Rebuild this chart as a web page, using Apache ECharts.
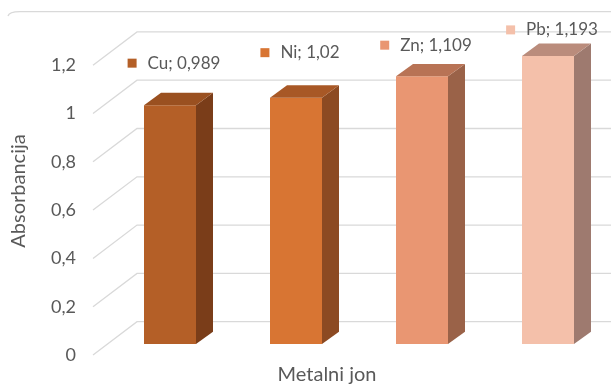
<!DOCTYPE html>
<html>
<head>
<meta charset="utf-8">
<script src="https://cdn.jsdelivr.net/npm/echarts@6/dist/echarts.min.js"></script>
<style>html,body{margin:0;padding:0;background:#fff}#c{width:611px;height:389px}</style>
</head>
<body>
<div id="c"></div>
<script>
// ---- data ----
const categories = ['Cu', 'Ni', 'Zn', 'Pb'];
const values = [0.989, 1.02, 1.109, 1.193];
const valueLabels = ['0,989', '1,02', '1,109', '1,193'];
const yTicks = [0, 0.2, 0.4, 0.6, 0.8, 1, 1.2];
const xTitle = 'Metalni jon';
const yTitle = 'Absorbancija';

// ---- style ----
const frontCol = ['#B45F27', '#D87533', '#E99672', '#F4C0AA'];
const sideCol  = ['#7A3D19', '#8C4A22', '#9A6248', '#9E7A6F'];
const topCol   = ['#9A5020', '#A85826', '#B87355', '#BA8C7C'];
const labelLift = [42, 45, 31, 26];
const FONT = 'Lato, "Liberation Sans", sans-serif';
const TXT = '#595959';
const GRID = '#d9d9d9';
const LBL = 17, TICK = 18, TITLE = 20;

const chart = echarts.init(document.getElementById('c'), null, {renderer: 'canvas'});

const ctx = document.createElement('canvas').getContext('2d');
function tw(s, size) { ctx.font = size + 'px ' + FONT; return ctx.measureText(s).width; }

const fmt = v => String(+(+v).toFixed(1)).replace('.', ',');

const option = {
  animation: false,
  grid: [
    {left: 107, top: 54.2, width: 511, height: 289.8},
    {left: 93, top: 65.2, width: 44, height: 289.8}
  ],
  xAxis: [
    {type: 'category', gridIndex: 0, data: categories, show: false},
    {type: 'value', gridIndex: 1, min: 0, max: 1, show: false}
  ],
  yAxis: [
    {type: 'value', gridIndex: 0, min: 0, max: 1.2, interval: 0.2, show: false},
    {type: 'value', gridIndex: 1, min: 0, max: 1.2, interval: 0.2,
     axisLine: {show: false}, axisTick: {show: false}, splitLine: {show: false},
     axisLabel: {formatter: fmt, color: TXT, fontSize: TICK, fontFamily: FONT, margin: 17}}
  ],
  series: [
    {
      type: 'custom', xAxisIndex: 1, yAxisIndex: 1, z: 1,
      data: yTicks.map(v => [0, v]),
      renderItem: function (params, api) {
        const p = api.coord([0, api.value(1)]);
        const x0 = params.coordSys.x;
        return {
          type: 'polyline', silent: true,
          shape: {points: [[x0, p[1]], [x0 + 44, p[1] - 33.3], [611, p[1] - 33.3]]},
          style: {stroke: GRID, lineWidth: 1.3, fill: null}
        };
      }
    },
    {
      type: 'custom', xAxisIndex: 0, yAxisIndex: 0, z: 3,
      data: values.map((v, i) => [i, v]),
      renderItem: function (params, api) {
        const i = api.value(0), v = api.value(1);
        const c = api.coord([i, v]);
        const b = api.coord([i, 0]);
        const hw = 26, dx = 17, dy = -12.3;
        const xl = c[0] - hw, xr = c[0] + hw, yt = c[1], yb = b[1];
        const label = categories[i] + '; ' + valueLabels[i];
        const textW = tw(label, LBL);
        const groupW = 20 + textW;
        const gl = c[0] + 4 - groupW / 2;
        const ly = yt - labelLift[i];
        return {
          type: 'group',
          children: [
            {type: 'rect', shape: {x: xl, y: yt, width: hw * 2, height: yb - yt}, style: {fill: frontCol[i]}},
            {type: 'polygon', shape: {points: [[xr, yt], [xr + dx, yt + dy], [xr + dx, yb + dy], [xr, yb]]}, style: {fill: sideCol[i]}},
            {type: 'polygon', shape: {points: [[xl, yt], [xl + dx, yt + dy], [xr + dx, yt + dy], [xr, yt]]}, style: {fill: topCol[i]}},
            {type: 'rect', shape: {x: gl, y: ly - 4.5, width: 9, height: 9}, style: {fill: frontCol[i]}},
            {type: 'text', x: gl + 20, y: ly, style: {text: label, fill: TXT, font: LBL + 'px ' + FONT, verticalAlign: 'middle', align: 'left'}}
          ]
        };
      }
    }
  ],
  graphic: [
    {type: 'bezierCurve', shape: {x1: 8, y1: 16, cpx1: 9, cpy1: 11.7, x2: 20, y2: 11.7}, style: {stroke: GRID, lineWidth: 1.3, fill: null}, silent: true},
    {type: 'line', shape: {x1: 20, y1: 11.7, x2: 611, y2: 11.7}, style: {stroke: GRID, lineWidth: 1.3}, silent: true},
    {type: 'text', x: 327, y: 375, style: {text: xTitle, fill: TXT, font: TITLE + 'px ' + FONT, align: 'center', verticalAlign: 'middle'}},
    {type: 'text', x: 19, y: 191, rotation: Math.PI / 2, style: {text: yTitle, fill: TXT, font: TITLE + 'px ' + FONT, align: 'center', verticalAlign: 'middle'}}
  ]
};
chart.setOption(option);
</script>
</body>
</html>
